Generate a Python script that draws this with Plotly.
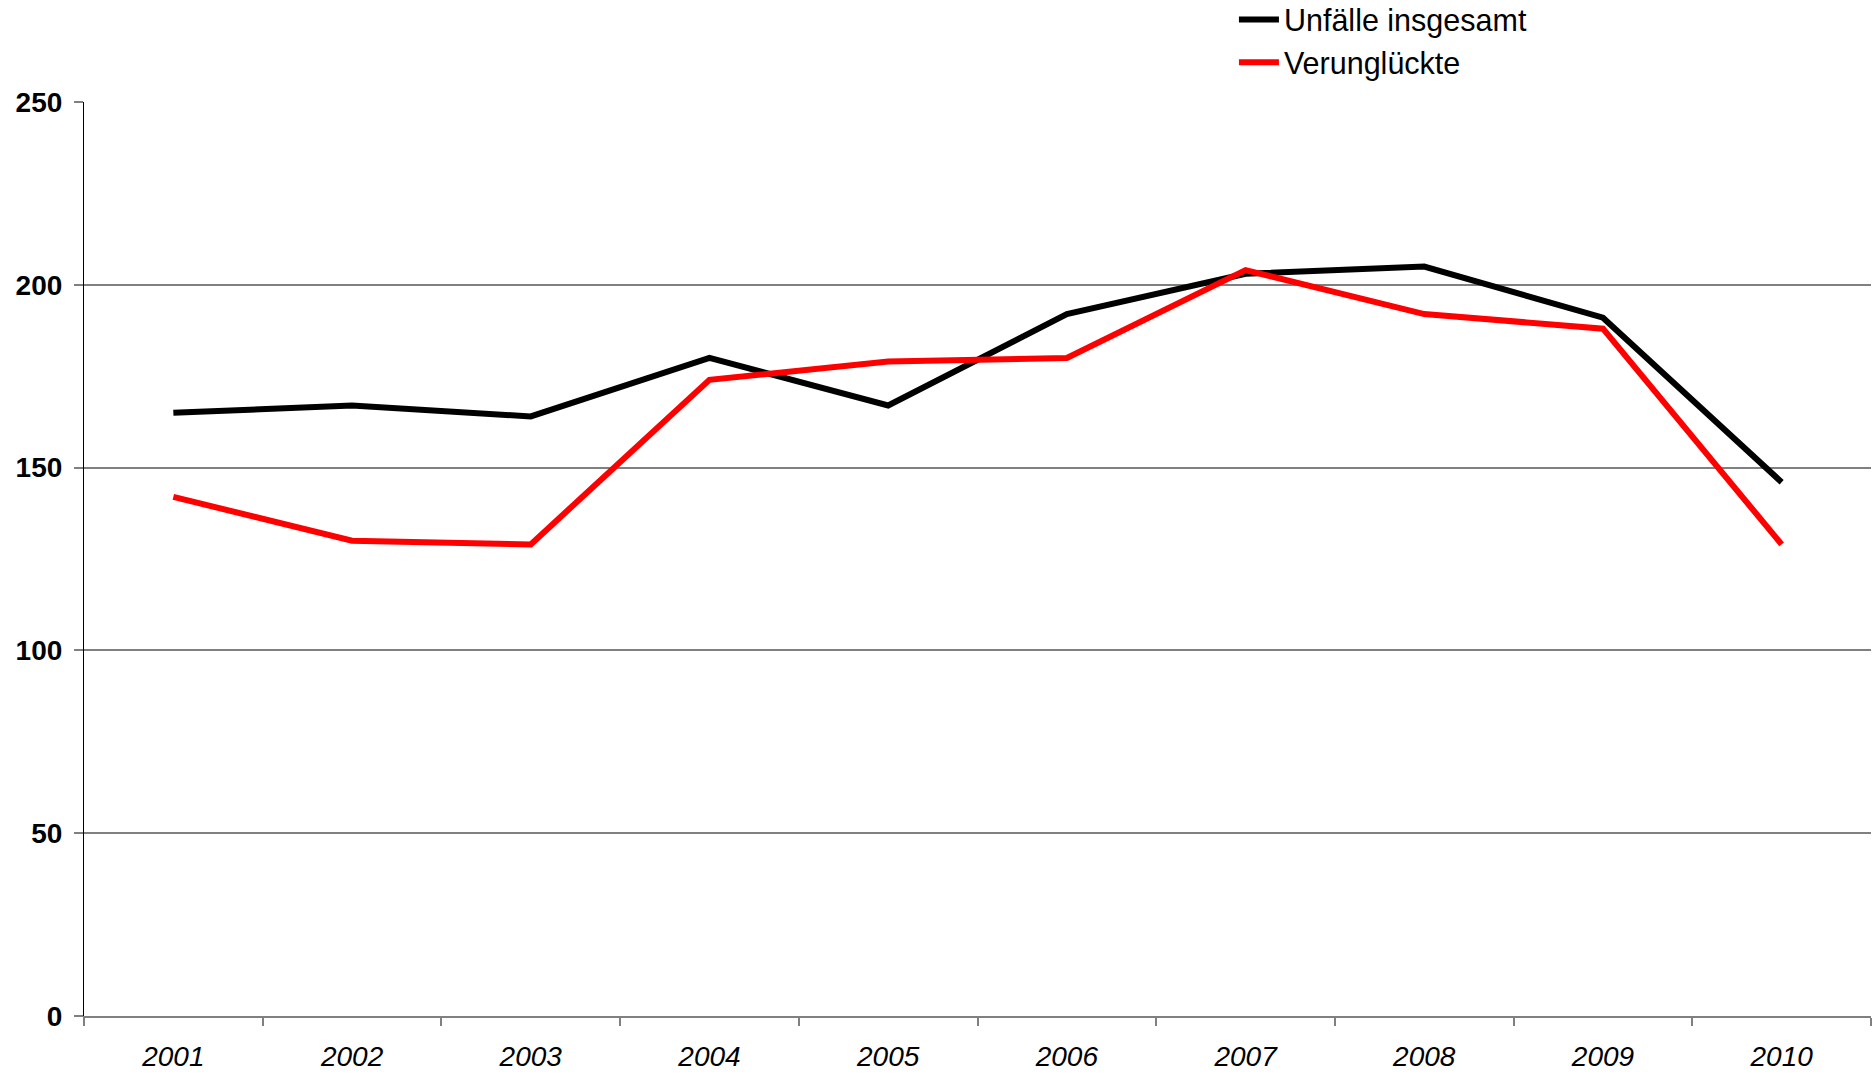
import plotly.graph_objects as go

years = ["2001", "2002", "2003", "2004", "2005", "2006", "2007", "2008", "2009", "2010"]
unfaelle = [165, 167, 164, 180, 167, 192, 203, 205, 191, 146]
verunglueckte = [142, 130, 129, 174, 179, 180, 204, 192, 188, 129]
y_ticks = [0, 50, 100, 150, 200, 250]

FONT = "Liberation Sans, Arial, sans-serif"

fig = go.Figure()
fig.add_trace(go.Scatter(x=years, y=unfaelle, mode="lines", name="Unfälle insgesamt",
                         line=dict(color="#000000", width=6)))
fig.add_trace(go.Scatter(x=years, y=verunglueckte, mode="lines", name="Verunglückte",
                         line=dict(color="#FF0000", width=6)))

fig.update_layout(
    width=1874, height=1076,
    margin=dict(l=84, r=3, t=102, b=60, autoexpand=False),
    paper_bgcolor="white", plot_bgcolor="white",
    font=dict(family=FONT, color="black"),
    showlegend=True,
    legend=dict(x=0.6435, y=1.119, xref="paper", yref="paper",
                xanchor="left", yanchor="top",
                font=dict(size=30.5, family=FONT, color="black"),
                bgcolor="rgba(0,0,0,0)", itemwidth=40),
    xaxis=dict(type="category", tickson="boundaries", ticks="outside", ticklen=8,
               tickcolor="#808080", tickwidth=1.5, showgrid=False,
               showline=True, linecolor="#808080", linewidth=1.5,
               tickfont=dict(size=28, family=FONT, style="italic"),
               ticklabelstandoff=15, range=[-0.5, 9.5], automargin=False),
    yaxis=dict(range=[0, 250], tickvals=y_ticks, ticks="outside", ticklen=9,
               tickcolor="#808080", tickwidth=1.5,
               showgrid=True, gridcolor="#808080", gridwidth=1.5,
               showline=True, linecolor="#000000", linewidth=1.2,
               zeroline=False, automargin=False,
               tickfont=dict(size=28, family=FONT, weight="bold"),
               ticklabelstandoff=6),
)

fig.write_html("out.html",
               config={"displayModeBar": False},
               post_script="document.body.style.margin='0';document.body.style.overflow='hidden';")
